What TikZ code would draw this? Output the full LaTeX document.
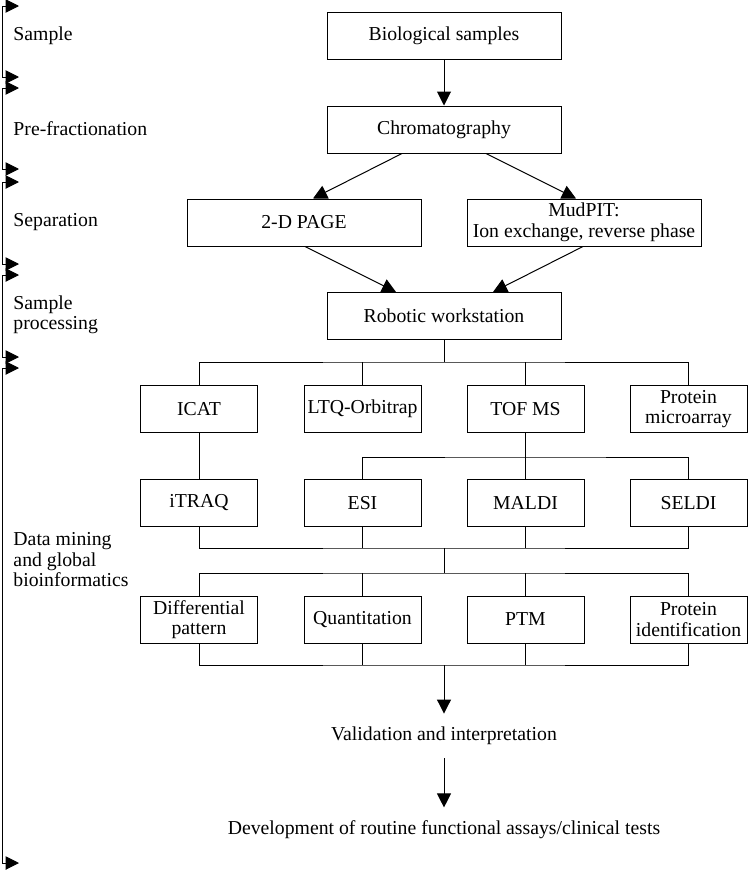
\documentclass[tikz,border=0pt]{standalone}
\usepackage{fontspec}
\setmainfont{Liberation Serif}
\usetikzlibrary{arrows.meta,calc}

\tikzset{every picture/.style={line width=0.75pt}}
\tikzset{
  txt/.style={font=\fontsize{14.8}{15.4}\selectfont},
  bigbox/.style={txt, draw, minimum width=175.5pt, minimum height=35.25pt, inner sep=0.75pt, align=center},
  smallbox/.style={bigbox, minimum width=87.75pt},
  plaintext/.style={txt, inner sep=9.75pt, align=center},
  stage/.style={txt, anchor=west, inner sep=0pt, align=left},
  flow/.style={-{Triangle[length=10.5pt,width=10.5pt]}},
  stagebar/.style={{Triangle[length=10pt,width=10pt]}-{Triangle[length=10pt,width=10pt]}},
}

\begin{document}
\begin{tikzpicture}[x=0.75pt,y=0.75pt,yscale=-1,xscale=1]
\useasboundingbox (0,0) rectangle (748,871);

%Stage bar on the left
\foreach \ya/\yb in {6/77, 88/169, 182/264, 275/357, 368/863}
  \draw [stagebar] (19,\ya) -- (2,\ya) -- (2,\yb) -- (19,\yb) ;

% Stage labels
\node [stage] (lsample) at (13,36) {Sample};
\node [stage] (lprefrac) at (13,129) {Pre-fractionation};
\node [stage] (lsep) at (13,222) {Separation};
\node [stage] (lproc) at (13,315) {Sample\\processing};
\node [stage] (lmining) at (13,560) {Data mining\\and global\\bioinformatics};

% Upper boxes
\node [bigbox] (bio) at (444,36) {Biological samples};
\node [bigbox] (chrom) at (444,129.5) {Chromatography};
\node [bigbox] (page) at (304,222.5) {2-D PAGE};
\node [bigbox] (mud) at (584,222.5) {MudPIT:\\Ion exchange, reverse phase};
\node [bigbox] (robot) at (444,316) {Robotic workstation};

% Row 1
\node [smallbox] (icat) at (199,409) {ICAT};
\node [smallbox] (ltq) at (362.5,409) {LTQ-Orbitrap};
\node [smallbox] (tof) at (525.5,409) {TOF MS};
\node [smallbox] (micro) at (688.5,409) {Protein\\microarray};
% Row 2
\node [smallbox] (itraq) at (199,503) {iTRAQ};
\node [smallbox] (esi) at (362.5,503) {ESI};
\node [smallbox] (maldi) at (525.5,503) {MALDI};
\node [smallbox] (seldi) at (688.5,503) {SELDI};
% Row 3
\node [smallbox] (diff) at (199,619.5) {Differential\\pattern};
\node [smallbox] (quant) at (362.5,619.5) {Quantitation};
\node [smallbox] (ptm) at (525.5,619.5) {PTM};
\node [smallbox] (ident) at (688.5,619.5) {Protein\\identification};

% Final steps
\node [plaintext] (valid) at (444,736) {Validation and interpretation};
\node [plaintext] (devel) at (444,830) {Development of routine functional assays/clinical tests};

% Branch points
\coordinate (split1) at (444,362);
\coordinate (split2) at (525.5,457);
\coordinate (join1) at (444,548);
\coordinate (split3) at (444,573);
\coordinate (join2) at (444,665);

% Arrows of the upper part
\draw [flow] (bio) -- (chrom) ;
\draw [flow] ($(chrom.south)+(-42,0)$) -- ($(page.north)+(9,0)$) ;
\draw [flow] ($(chrom.south)+(42,0)$) -- ($(mud.north)+(-8,0)$) ;
\draw [flow] ($(page.south)+(1,0)$) -- ($(robot.north)+(-48,0)$) ;
\draw [flow] ($(mud.south)+(-1,0)$) -- ($(robot.north)+(49,0)$) ;

% Tree of instruments
\draw (robot.south) -- (split1) ;
\draw (icat.north) |- (split1) -| (micro.north) ;
\draw (ltq.north) -- (ltq.north |- split1) ;
\draw (tof.north) -- (tof.north |- split1) ;
\draw (icat) -- (itraq) ;
\draw (tof) -- (maldi) ;
\draw (esi.north) |- (split2) -| (seldi.north) ;
\draw (itraq.south) |- (join1) -| (seldi.south) ;
\draw (esi.south) -- (esi.south |- join1) ;
\draw (maldi.south) -- (maldi.south |- join1) ;
\draw (join1) -- (split3) ;
\draw (diff.north) |- (split3) -| (ident.north) ;
\draw (quant.north) -- (quant.north |- split3) ;
\draw (ptm.north) -- (ptm.north |- split3) ;
\draw (diff.south) |- (join2) -| (ident.south) ;
\draw (quant.south) -- (quant.south |- join2) ;
\draw (ptm.south) -- (ptm.south |- join2) ;

% Down to validation
\draw [flow] (join2) -- (valid) ;
\draw [flow] (valid) -- (devel) ;
\end{tikzpicture}
\end{document}
